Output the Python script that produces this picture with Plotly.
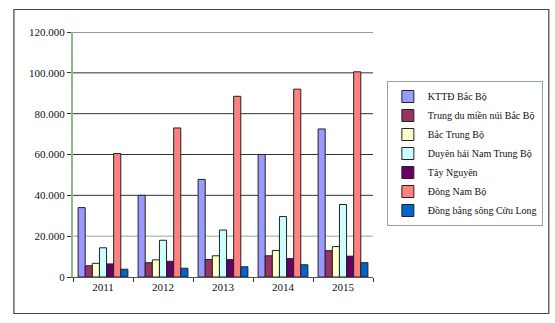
import plotly.graph_objects as go

years = ["2011", "2012", "2013", "2014", "2015"]
series_names = [
    "KTTĐ Bắc Bộ",
    "Trung du miền núi Bắc Bộ",
    "Bắc Trung Bộ",
    "Duyên hải Nam Trung Bộ",
    "Tây Nguyên",
    "Đông Nam Bộ",
    "Đồng bằng sông Cửu Long",
]
kttd = [34000, 40000, 47800, 60000, 72500]
trung_du = [5500, 7000, 8600, 10400, 12900]
bac_trung = [6700, 8400, 10400, 13000, 14900]
duyen_hai = [14300, 18000, 23000, 29600, 35500]
tay_nguyen = [6400, 7700, 8500, 9000, 10200]
dong_nam_bo = [60500, 73000, 88500, 92000, 100500]
dbscl = [3800, 4300, 5000, 6000, 7000]
series_values = [kttd, trung_du, bac_trung, duyen_hai, tay_nguyen, dong_nam_bo, dbscl]
colors = ["#9999FF", "#993366", "#FFFFCC", "#CCFFFF", "#660066", "#FF8080", "#0066CC"]

y_tickvals = [0, 20000, 40000, 60000, 80000, 100000, 120000]
y_ticktext = ["0", "20.000", "40.000", "60.000", "80.000", "100.000", "120.000"]

fig = go.Figure()
for name, vals, col in zip(series_names, series_values, colors):
    fig.add_trace(go.Bar(
        x=years, y=vals, name=name,
        marker=dict(color=col, line=dict(color="#222222", width=1)),
    ))

font_family = "Liberation Serif, Times New Roman, serif"
W, H = 555, 323
l, r, t, b = 73, 180, 32, 46
pw, ph = W - l - r, H - t - b

def px_x(px):
    return (px - l) / pw

def px_y(py):
    return (H - b - py) / ph

shapes = []
for v in y_tickvals[1:]:
    shapes.append(dict(type="line", xref="paper", yref="y", x0=0, x1=1, y0=v, y1=v,
                       line=dict(color="#8fb08f" if v == 20000 else "#333333", width=1),
                       layer="below"))
shapes.append(dict(type="rect", xref="paper", yref="paper",
                   x0=px_x(13.5), x1=px_x(552), y0=px_y(313.5), y1=px_y(9.5),
                   line=dict(color="#444444", width=1.2), fillcolor="rgba(0,0,0,0)"))

fig.update_layout(
    width=W, height=H,
    margin=dict(l=l, r=r, t=t, b=b),
    paper_bgcolor="white", plot_bgcolor="white",
    barmode="group", bargap=0.17, bargroupgap=0,
    font=dict(family=font_family, size=11, color="#111111"),
    shapes=shapes,
    legend=dict(
        x=px_x(546), y=px_y(81), xanchor="right", yanchor="top",
        bordercolor="#8fa88f", borderwidth=1,
        font=dict(family=font_family, size=10, color="#111111"),
        tracegroupgap=0, itemwidth=30,
    ),
    showlegend=True,
)
fig.update_xaxes(
    showgrid=False, showline=True, linecolor="#555555", linewidth=1,
    ticks="outside", ticklen=4, tickcolor="#333333", tickson="boundaries",
    tickfont=dict(family=font_family, size=11),
)
fig.update_yaxes(
    range=[0, 120000], tickvals=y_tickvals, ticktext=y_ticktext,
    showgrid=False, showline=True, linecolor="#8fb88f", linewidth=2,
    ticks="outside", ticklen=4, tickcolor="#333333", zeroline=False,
    tickfont=dict(family=font_family, size=11),
)

fig.write_html("out.html")
